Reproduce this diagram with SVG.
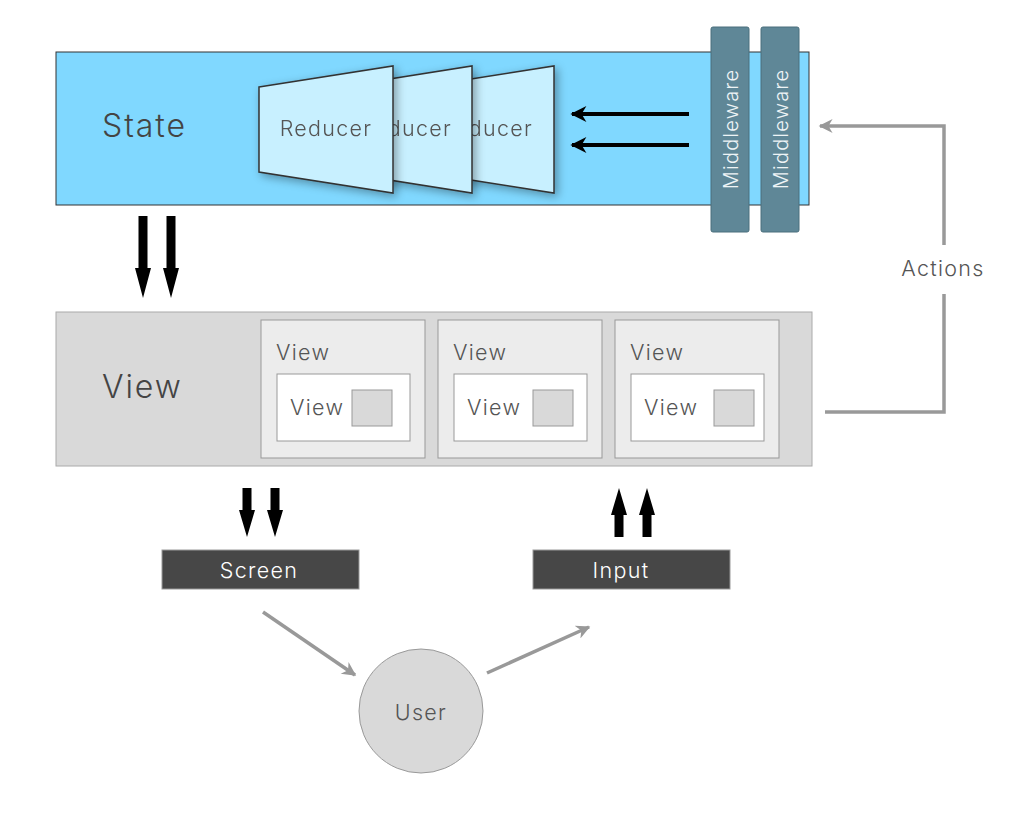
<svg xmlns="http://www.w3.org/2000/svg" width="1036" height="819" viewBox="0 0 1036 819">
<defs>
<style>
text{font-family:"Inter","Liberation Sans",sans-serif;font-weight:300;letter-spacing:0.06em;}
.big{font-size:32px;fill:#444;}
.lbl{font-size:21.5px;fill:#555;}
.red{fill:#c8f0ff;stroke:#333;stroke-width:1.5;}
.mw{fill:#5f8797;stroke:#4a6e7c;stroke-width:1;}
.mwt{font-size:20px;fill:#eef4f6;}
.vo{fill:#ececec;stroke:#999;stroke-width:1;}
.vi{fill:#fff;stroke:#999;stroke-width:1;}
.sq{fill:#d9d9d9;stroke:#999;stroke-width:1;}
.dark{fill:#474747;stroke:#999;stroke-width:1;}
.wt{font-size:21.5px;fill:#fff;}
.blk{stroke:#000;stroke-width:4;fill:none;}
.gry{stroke:#999;stroke-width:3.5;fill:none;}
</style>
<filter id="sh" x="-20%" y="-20%" width="150%" height="150%">
<feGaussianBlur in="SourceAlpha" stdDeviation="5"/>
<feOffset dx="3" dy="3" result="b"/>
<feComponentTransfer><feFuncA type="linear" slope="0.35"/></feComponentTransfer>
<feMerge><feMergeNode/><feMergeNode in="SourceGraphic"/></feMerge>
</filter>
<marker id="ab" viewBox="0 0 10 10" refX="9" refY="5" markerWidth="5" markerHeight="4" orient="auto" markerUnits="strokeWidth"><path d="M0,0 L10,5 L0,10 L3,5 Z" fill="#000"/></marker>
<marker id="ag" viewBox="0 0 10 10" refX="9" refY="5" markerWidth="5" markerHeight="4" orient="auto" markerUnits="strokeWidth"><path d="M0,0 L10,5 L0,10 L3,5 Z" fill="#999"/></marker>
<path id="fat" d="M-4.5,0 L4.5,0 L4.5,-52 L8,-52 L0,-82 L-8,-52 L-4.5,-52 Z" fill="#000"/>
<path id="fat2" d="M-4.5,0 L4.5,0 L4.5,-22 L8,-22 L0,-49 L-8,-22 L-4.5,-22 Z" fill="#000"/>
</defs>
<rect width="1036" height="819" fill="#fff"/>

<g id="state">
<rect x="56" y="52" width="753" height="153" fill="#80d8ff" stroke="#333" stroke-width="1"/>
<text class="big" x="102" y="137">State</text>
</g>

<g id="reducer3" filter="url(#sh)">
<polygon class="red" points="420,87 554,66 554,193 420,172"/>
<text class="lbl" x="533" y="136" text-anchor="end">ducer</text>
</g>
<g id="reducer2" filter="url(#sh)">
<polygon class="red" points="339,87 472,66 472,193 339,172"/>
<text class="lbl" x="452" y="136" text-anchor="end">ducer</text>
</g>
<g id="reducer1" filter="url(#sh)">
<polygon class="red" points="259,87 393,66 393,193 259,172"/>
<text class="lbl" x="326" y="136" text-anchor="middle">Reducer</text>
</g>

<g id="middleware1">
<rect class="mw" x="711" y="27" width="38" height="205" rx="2"/>
<text class="mwt" transform="translate(738,129) rotate(-90)" text-anchor="middle">Middleware</text>
</g>
<g id="middleware2">
<rect class="mw" x="761" y="27" width="38" height="205" rx="2"/>
<text class="mwt" transform="translate(788,129) rotate(-90)" text-anchor="middle">Middleware</text>
</g>

<g id="view">
<rect x="56" y="312" width="756" height="154" fill="#d9d9d9" stroke="#aaa" stroke-width="1"/>
<text class="big" x="102" y="398">View</text>
</g>
<g id="view1">
<rect class="vo" x="261" y="320" width="164" height="138"/>
<text class="lbl" x="276" y="360">View</text>
<rect class="vi" x="277" y="374" width="133" height="67"/>
<text class="lbl" x="290" y="415">View</text>
<rect class="sq" x="352" y="390" width="40" height="36"/>
</g>
<g id="view2">
<rect class="vo" x="438" y="320" width="164" height="138"/>
<text class="lbl" x="453" y="360">View</text>
<rect class="vi" x="454" y="374" width="133" height="67"/>
<text class="lbl" x="467" y="415">View</text>
<rect class="sq" x="533" y="390" width="40" height="36"/>
</g>
<g id="view3">
<rect class="vo" x="615" y="320" width="164" height="138"/>
<text class="lbl" x="630" y="360">View</text>
<rect class="vi" x="631" y="374" width="133" height="67"/>
<text class="lbl" x="644" y="415">View</text>
<rect class="sq" x="714" y="390" width="40" height="36"/>
</g>

<g id="screen">
<rect class="dark" x="162" y="550" width="197" height="39"/>
<text class="wt" x="259" y="578" text-anchor="middle">Screen</text>
</g>
<g id="input">
<rect class="dark" x="533" y="550" width="197" height="39"/>
<text class="wt" x="621" y="578" text-anchor="middle">Input</text>
</g>
<g id="user">
<circle cx="421" cy="711" r="62" fill="#d9d9d9" stroke="#999" stroke-width="1"/>
<text class="lbl" x="421" y="720" text-anchor="middle" fill="#444">User</text>
</g>

<g id="connectors">
<line class="blk" x1="689" y1="114" x2="572" y2="114" marker-end="url(#ab)"/>
<line class="blk" x1="689" y1="145" x2="572" y2="145" marker-end="url(#ab)"/>
<use href="#fat" transform="matrix(1,0,0,-1,143,216)"/>
<use href="#fat" transform="matrix(1,0,0,-1,171,216)"/>
<use href="#fat2" transform="matrix(1,0,0,-1,247,488)"/>
<use href="#fat2" transform="matrix(1,0,0,-1,275,488)"/>
<use href="#fat2" transform="translate(619,537)"/>
<use href="#fat2" transform="translate(647,537)"/>
<line class="gry" x1="263" y1="612" x2="355" y2="675" marker-end="url(#ag)"/>
<line class="gry" x1="487" y1="673" x2="589" y2="627" marker-end="url(#ag)"/>
<polyline class="gry" points="825,412 944,412 944,294" stroke-width="4"/>
<polyline class="gry" points="944,245 944,126 820,126" stroke-width="4" marker-end="url(#ag)"/>
<text class="lbl" x="943" y="276" text-anchor="middle">Actions</text>
</g>
</svg>
